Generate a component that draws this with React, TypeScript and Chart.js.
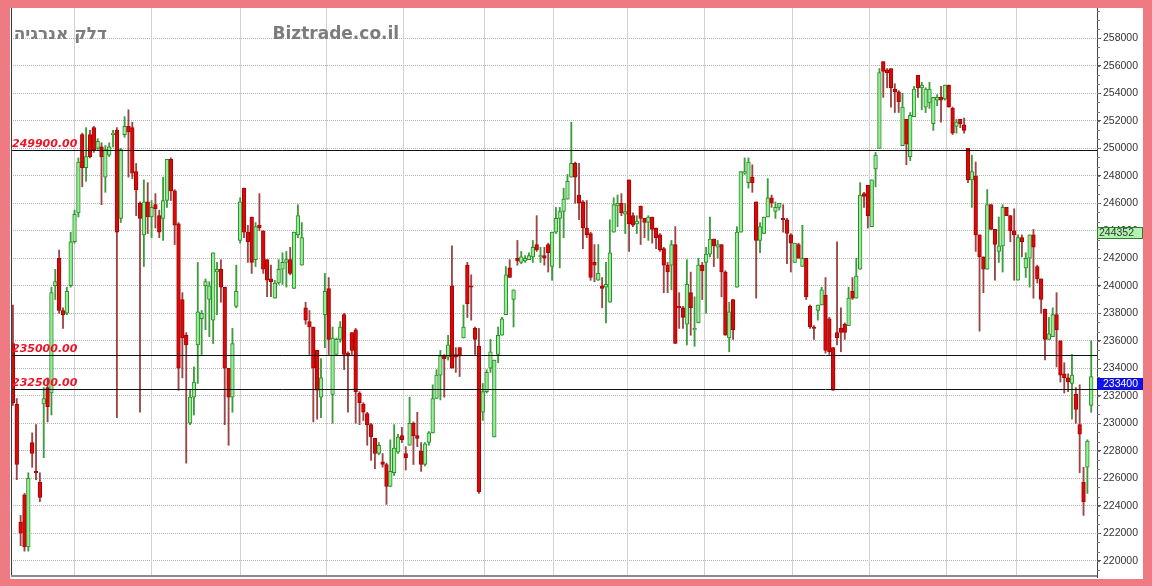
import React, { useEffect, useRef } from "react";
import { Chart, registerables } from "chart.js";

Chart.register(...registerables);

const opens = [
  235800,231400,222800,224800,221000,228600,226500,225700,231400,232600,
  232200,240000,242000,238200,238000,240000,243200,245300,251000,248600,
  251000,251500,250000,250100,247900,249500,251000,251300,244900,251000,
  251600,251500,248300,246000,243700,246100,245000,245900,245100,244900,
  246200,249200,246900,244500,239000,236400,230000,231900,235700,237600,
  240000,239000,237500,241000,241200,239900,234000,231900,238500,243300,
  247100,243900,245000,241900,244400,244000,241900,240500,239100,240200,
  241200,241700,241900,239800,243700,241500,238400,237400,237000,235300,
  231900,237900,239800,232100,235000,236100,237900,235100,236600,236800,
  232200,231400,230700,229900,228900,227800,227200,227000,225400,226400,
  227900,229100,227800,228400,230000,229100,228000,227000,228600,229300,
  231800,233500,234900,234800,240000,235000,235500,236200,241500,240000,
  236900,235600,230800,232300,234000,229000,235000,236400,237900,241300,
  239000,242000,241700,241800,241900,242100,243000,242100,242200,243000,
  241400,243900,244900,245400,246300,247900,248900,246600,246100,244200,
  243800,241700,240400,240000,239900,238800,243900,245800,246000,245200,
  247700,245100,244500,245800,244900,244600,245000,244200,243700,242700,
  241500,241500,243000,238500,238400,237200,239500,236800,237300,241500,
  241700,242300,243400,242800,243000,241000,236200,239000,239900,243900,
  248200,247500,247900,246100,243300,243800,245000,246400,245400,245700,
  244900,244800,243700,241700,243000,241400,242000,238500,237000,238200,
  238600,239300,237600,235500,236600,236900,237200,237100,239600,239100,
  241200,246700,247300,244300,248500,250000,256300,255700,255800,254300,
  254100,250200,252100,249400,252300,255300,254400,253000,253300,251800,
  253500,253700,253600,254600,252900,251600,252100,251700,250000,247700,
  248000,243700,242100,241200,245900,244100,242500,242900,245700,245100,
  244000,240400,243500,241300,242000,243700,241400,240500,238300,236100,
  236300,237900,236000,233600,233300,232900,232100,229900,225700,226800,
  231300,
];

const closes = [
  231500,227000,222000,221000,226000,227800,226400,224600,231800,231200,
  239500,240300,238200,237900,239600,243200,245200,249000,248600,249400,
  249400,249900,250500,249400,249900,250100,251100,243900,249900,251600,
  251200,248200,247000,244900,246100,245000,245700,245600,243900,246200,
  249200,246900,244400,234000,236200,235700,231900,233000,238100,238000,
  240300,240000,242400,241200,239900,234000,231900,235800,239600,246100,
  243900,243200,241700,244300,244200,241200,240400,240300,240200,241200,
  241700,241900,240900,243900,245100,243500,237500,237000,234000,232400,
  233300,239600,236100,236200,236100,237000,235000,234900,235300,232300,
  231500,230800,229900,229000,227800,228400,227000,225400,226500,228200,
  229000,228800,227500,230000,229100,228900,227000,228500,229300,231800,
  233500,234900,234700,235700,234000,234800,234900,237000,238700,239900,
  236100,225000,232300,233700,235200,234600,236400,237600,240800,240600,
  239700,241800,242100,242000,242200,242800,242600,242200,242000,242400,
  243900,244900,245400,246300,247600,248900,247900,246000,244200,243700,
  240600,241500,240900,239800,240100,242400,245900,246000,245300,245400,
  244500,244400,244700,244900,244600,245000,244100,243500,242600,241500,
  241000,243000,235800,238400,237700,240100,238400,236900,241500,241100,
  242300,243400,242900,243000,241000,236400,238100,236800,243900,248300,
  248300,249000,247500,243300,244300,245000,246400,246000,245700,246000,
  244800,243800,243100,243100,242000,242000,239200,237000,236900,238600,
  239700,235300,235200,232400,236200,236600,236600,239100,239100,240700,
  246600,246500,245100,247700,249500,255500,255600,255500,254400,254100,
  253400,253000,250300,252400,254300,254400,254600,254300,254300,253700,
  253700,253500,254600,253000,251100,251900,251800,251300,247700,248300,
  243700,242100,241200,245900,244100,243000,242900,245700,245100,244000,
  243700,243500,243200,242000,243700,242800,240500,239000,236100,236500,
  237900,236800,233500,233300,233000,233500,231000,229200,224300,228700,
  233400,
];

const highs = [
  238600,231800,223300,224900,226400,229300,229900,226400,232600,233300,
  239900,241200,242600,238400,239900,243900,245500,249300,251100,251500,
  251300,251600,250700,250400,250200,250400,251300,251500,250000,252300,
  252800,251900,248900,246100,247700,247500,246200,246700,245500,247900,
  249200,249300,247000,244600,239500,236600,232400,234100,241700,238200,
  240500,240300,242400,241700,241900,239900,234000,236900,241500,246400,
  247100,244400,245000,244600,246700,244000,241900,241500,240400,241900,
  242400,242500,242800,243900,245900,244600,238800,238200,237000,235300,
  234700,240900,240600,237000,236200,237400,238000,235200,236600,236900,
  232300,231500,230800,230000,228900,228600,227800,227100,228800,229900,
  229200,229700,228300,231900,230100,230800,228600,228600,229400,232800,
  233900,235300,235000,236400,242900,235500,235500,238600,241700,240800,
  237000,236900,232900,233900,236100,234600,237000,237700,241400,241900,
  239700,243300,242500,242200,242400,243300,245100,242800,242800,243100,
  243900,245700,245700,247100,248100,251900,249000,248900,246200,246200,
  243900,243000,243000,240600,241700,244800,246400,246600,246700,246000,
  247700,245300,245100,245800,244900,245100,245000,244200,243800,242800,
  241700,243300,244300,239500,238500,241900,241000,239200,242000,241700,
  242800,245000,243400,243300,243000,241100,238800,239000,244300,248300,
  249300,249300,248800,246100,244600,245000,247800,246600,246100,246000,
  245900,244900,243800,243100,243100,244400,242000,238600,237100,238600,
  239900,240600,237700,235500,243200,238400,237300,239900,240600,242000,
  247500,246800,247300,247700,249700,255800,256300,255800,255800,254700,
  254200,254000,252100,252600,254500,255300,254800,254400,254800,253700,
  253900,254500,254600,254600,253000,252100,252100,252200,250000,249500,
  249000,243700,242100,247000,245900,244100,245000,245900,245700,245100,
  245600,243700,243700,242400,243700,244100,241500,240500,238300,237700,
  238400,239500,236000,234400,233600,235000,232600,232800,226800,228800,
  236000,
];

const lows = [
  231300,225900,221100,220700,220700,226800,225900,224300,227500,230100,
  230600,239000,238000,236900,237900,239900,243100,245000,247200,247600,
  249300,249700,249900,245900,246800,249400,250100,230400,244600,250800,
  247900,247800,245100,230800,241400,243800,243500,244200,243500,243300,
  245700,246200,243000,232400,233300,227100,229900,230600,232900,235000,
  236800,236300,235800,237900,238800,229900,228400,230800,238400,243100,
  243500,241700,240900,241400,244000,240900,239200,239200,239100,240100,
  240100,239900,240800,239800,243500,241500,237200,235000,230100,230300,
  230400,235500,235000,230000,235000,235900,233900,230800,235000,230000,
  229900,230200,228400,227300,226700,227700,226800,224100,225400,226200,
  227800,228600,226600,228400,227000,228300,226500,226900,228400,229300,
  231800,231700,231900,234600,234000,233700,233400,236200,237700,237500,
  235000,224900,230200,232200,233700,229000,234400,236400,237900,240600,
  237000,241500,241600,241700,241900,241700,242500,241700,241500,241000,
  240400,243800,241300,243500,246300,247900,246000,244800,242700,243500,
  240400,240300,240400,238400,237300,238800,243900,244300,245100,243800,
  242500,244300,243800,243000,243500,243300,243100,242700,242500,239500,
  239500,239700,235800,236900,236900,235700,236400,235600,237300,239000,
  238000,242100,241400,242000,239200,236400,235200,236100,239900,243900,
  248100,247100,246800,239100,242400,243800,245000,245700,244900,245500,
  243900,241600,241000,241700,242000,241400,239000,236900,236100,237500,
  238600,235100,235000,232400,235700,235200,236100,237100,239000,239100,
  241200,245700,244200,244300,247200,250000,253700,254400,253000,252600,
  252600,250200,248800,249100,252300,253700,252800,252600,252900,251300,
  253100,251900,253500,253000,251000,251100,251500,251100,247500,245700,
  242500,236700,239500,241200,244100,240400,241700,241000,245100,243200,
  240400,240400,242100,240600,239900,239100,240200,238000,234600,236100,
  236300,234100,233000,232200,232300,230300,230000,226400,223300,224900,
  230800,
];

const yTicks = [
  220000, 222000, 224000, 226000, 228000, 230000, 232000, 234000, 236000, 238000,
  240000, 242000, 244000, 246000, 248000, 250000, 252000, 254000, 256000, 258000,
];
const refLevels = [249900, 235000, 232500];
const markerGreen = [244352];
const markerBlue = [233400];
const monthBreaks = [15.8, 35.8, 59, 81.3, 101.3, 122.3, 140.2, 159.5, 179.5, 202.3, 222.3, 242.3, 260.5];
const titleText = "דלק אנרגיה";
const siteText = "Biztrade.co.il";

export default function App() {
  const ref = useRef<HTMLCanvasElement | null>(null);

  useEffect(() => {
    if (!ref.current) return;
    const labels = opens.map((_, i) => String(i + 1)).concat([""]);
    const up = opens.map((o, i) => closes[i] >= o);
    const bodies = opens.map((o, i) => [o, closes[i]]);
    const wicks = lows.map((l, i) => [l, highs[i]]);

    const overlay = {
      id: "overlay",
      beforeDatasetsDraw(chart: any) {
        const { ctx, chartArea: a, scales } = chart;
        const xs = scales.x;
        ctx.save();
        ctx.strokeStyle = "#d2d2d2";
        ctx.lineWidth = 1;
        for (const b of monthBreaks) {
          const x = Math.round(xs.getPixelForValue(b)) + 0.5;
          ctx.beginPath();
          ctx.moveTo(x, a.top);
          ctx.lineTo(x, a.bottom);
          ctx.stroke();
        }
        ctx.restore();
      },
      afterDatasetsDraw(chart: any) {
        const { ctx, chartArea: a, scales, width } = chart;
        const ys = scales.y;
        ctx.save();
        for (const lv of refLevels) {
          const y = Math.round(ys.getPixelForValue(lv)) + 0.5;
          ctx.strokeStyle = "#111";
          ctx.lineWidth = 1;
          ctx.beginPath();
          ctx.moveTo(a.left, y);
          ctx.lineTo(a.right, y);
          ctx.stroke();
          ctx.font = 'italic bold 11px "DejaVu Sans"';
          ctx.fillStyle = "#ec1425";
          ctx.textAlign = "left";
          ctx.textBaseline = "alphabetic";
          ctx.fillText(lv.toFixed(2), a.left + 1, y - 4);
        }
        ctx.strokeStyle = "#3a3a3a";
        ctx.lineWidth = 1;
        ctx.beginPath();
        ctx.moveTo(a.left + 0.5, a.top);
        ctx.lineTo(a.left + 0.5, a.bottom);
        ctx.stroke();
        ctx.strokeStyle = "#8a8a8a";
        ctx.lineWidth = 2;
        ctx.beginPath();
        ctx.moveTo(a.left, a.bottom - 1);
        ctx.lineTo(a.right, a.bottom - 1);
        ctx.stroke();
        ctx.strokeStyle = "#777";
        ctx.lineWidth = 1;
        const step = 2000 / 3;
        for (let k = 0; k < 80; k++) {
          const v = 218000 + k * step;
          if (v < ys.min || v > ys.max) continue;
          const y = Math.round(ys.getPixelForValue(v)) + 0.5;
          ctx.beginPath();
          ctx.moveTo(a.right, y);
          ctx.lineTo(a.right + 3, y);
          ctx.stroke();
        }
        const box = (v: number, fill: string, stroke: string, color: string, dx: number) => {
          const top = Math.round(ys.getPixelForValue(v)) + 1;
          ctx.fillStyle = fill;
          ctx.fillRect(a.right + 1, top, width - a.right - 1, 12);
          ctx.strokeStyle = stroke;
          ctx.lineWidth = 1;
          ctx.strokeRect(a.right + 0.5, top + 0.5, width - a.right - 1, 11);
          ctx.font = '10.5px "Liberation Sans"';
          ctx.fillStyle = color;
          ctx.textAlign = "left";
          ctx.textBaseline = "middle";
          ctx.fillText(String(v), a.right + dx, top + 6.5);
        };
        markerGreen.forEach((v) => box(v, "#b2f2b2", "#2f7f2f", "#2a3a2a", 2));
        markerBlue.forEach((v) => box(v, "#1212ee", "#0a0ac0", "#ffffff", 6));
        ctx.fillStyle = "#7c7c7c";
        ctx.textBaseline = "alphabetic";
        ctx.font = 'bold 17px "DejaVu Sans"';
        ctx.direction = "rtl";
        ctx.textAlign = "right";
        ctx.fillText(titleText, 97, 31);
        ctx.direction = "ltr";
        ctx.textAlign = "left";
        ctx.font = 'bold 17px "DejaVu Sans"';
        ctx.fillText(siteText, 262.5, 31);
        ctx.restore();
      },
    };

    const chart = new Chart(ref.current, {
      type: "bar",
      data: {
        labels,
        datasets: [
          {
            data: wicks as any,
            backgroundColor: up.map((u) => (u ? "#3d9d3d" : "#9a4646")),
            borderWidth: 0,
            barThickness: 1.2,
            grouped: false,
            order: 2,
          } as any,
          {
            data: bodies as any,
            backgroundColor: up.map((u) => (u ? "#96ee96" : "#d30c0c")),
            borderColor: up.map((u) => (u ? "#2c8c2c" : "#b00000")),
            borderWidth: 1,
            borderSkipped: false,
            barThickness: 3.7,
            grouped: false,
            order: 1,
          } as any,
        ],
      },
      options: {
        animation: false,
        responsive: false,
        maintainAspectRatio: false,
        layout: { padding: { left: 1, right: 0, top: 0, bottom: 2 } },
        plugins: { legend: { display: false }, tooltip: { enabled: false } },
        scales: {
          x: { type: "category", display: false, offset: true, grid: { display: false } },
          y: {
            type: "linear",
            position: "right",
            min: 218820,
            max: 260204,
            afterBuildTicks: (s: any) => {
              s.ticks = yTicks.map((v) => ({ value: v }));
            },
            afterFit: (s: any) => {
              s.width = 46;
              s.paddingTop = 0;
              s.paddingBottom = 0;
            },
            grid: {
              color: "#b2b2b2",
              lineWidth: 1,
              drawTicks: true,
              tickLength: 4,
              tickColor: "#555",
            },
            border: { display: true, color: "#444", width: 1, dash: [1, 1] },
            ticks: {
              color: "#333",
              padding: 2,
              font: { family: "Liberation Sans", size: 10.5 },
              callback: (v: any) => String(v),
            },
          } as any,
        },
      },
      plugins: [overlay as any],
    });
    return () => chart.destroy();
  }, []);

  return (
    <div
      style={{
        position: "fixed",
        left: 0,
        top: 0,
        width: 1152,
        height: 586,
        background: "#ef7a82",
        overflow: "hidden",
      }}
    >
      <canvas
        ref={ref}
        width={1133}
        height={571}
        style={{ position: "absolute", left: 10, top: 8, background: "#ffffff" }}
      />
    </div>
  );
}
